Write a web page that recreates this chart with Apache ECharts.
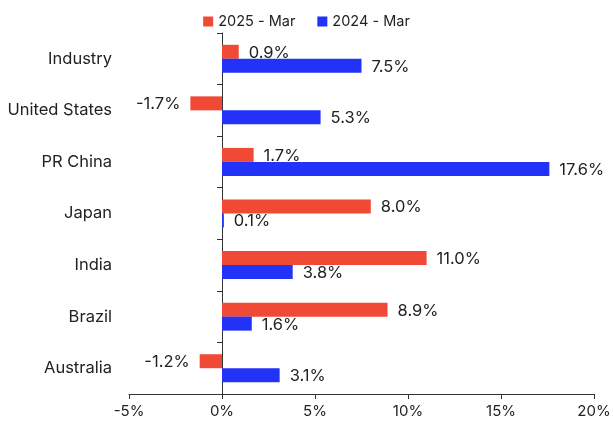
<!DOCTYPE html>
<html>
<head>
<meta charset="utf-8">
<script src="https://cdn.jsdelivr.net/npm/echarts@6/dist/echarts.min.js"></script>
<style>
  html, body { margin: 0; padding: 0; background: #fff; }
  #main { width: 613px; height: 425px; }
</style>
</head>
<body>
<div id="main"></div>
<script>
// categories top to bottom
const categories = ['Industry', 'United States', 'PR China', 'Japan', 'India', 'Brazil', 'Australia']
const mar2025 = [0.9, -1.7, 1.7, 8.0, 11.0, 8.9, -1.2]
const mar2024 = [7.5, 5.3, 17.6, 0.1, 3.8, 1.6, 3.1]
const xTicks = [-5, 0, 5, 10, 15, 20]

const RED = '#f04a36'
const BLUE = '#2232f7'
const TEXT = '#222'
const FONT = 'Inter'

// negative bars get their label on the left side
function withLabels(values) {
    return values.map(v => ({
        value: v,
        label: { position: v < 0 ? 'left' : 'right' }
    }))
}

const chart = echarts.init(document.getElementById('main'))

chart.setOption({
    animation: false,
    textStyle: { fontFamily: FONT },
    legend: {
        top: 9,
        left: 'center',
        itemWidth: 10,
        itemHeight: 10,
        itemGap: 22,
        icon: 'rect',
        textStyle: { fontSize: 14.5, color: TEXT, fontFamily: FONT },
        data: ['2025 - Mar', '2024 - Mar']
    },
    grid: { left: 129, right: 19, top: 33, bottom: 31, outerBoundsMode: 'none', containLabel: false },
    xAxis: {
        type: 'value',
        min: xTicks[0],
        max: xTicks[xTicks.length - 1],
        interval: 5,
        splitLine: { show: false },
        axisLine: { show: true, lineStyle: { color: '#333' } },
        axisTick: { show: true, length: 5, lineStyle: { color: '#333' } },
        axisLabel: { color: TEXT, fontSize: 15, margin: 10, formatter: v => v + '%' }
    },
    yAxis: {
        type: 'category',
        inverse: true,
        data: categories,
        axisLine: { show: true, onZero: true, lineStyle: { color: '#333' } },
        axisTick: { show: true, length: 5, lineStyle: { color: '#333' } },
        // labels sit off the grid edge, not off the zero line
        axisLabel: { color: TEXT, fontSize: 16.5, margin: 17 }
    },
    series: [
        {
            name: '2025 - Mar',
            type: 'bar',
            barWidth: 14,
            barGap: '0%',
            itemStyle: { color: RED },
            label: {
                show: true, distance: 10, color: TEXT, fontSize: 16.5, offset: [0, 1],
                formatter: p => p.value.toFixed(1) + '%'
            },
            data: withLabels(mar2025)
        },
        {
            name: '2024 - Mar',
            type: 'bar',
            barWidth: 14,
            barGap: '0%',
            itemStyle: { color: BLUE },
            label: {
                show: true, distance: 10, color: TEXT, fontSize: 16.5, offset: [0, 1],
                formatter: p => p.value.toFixed(1) + '%'
            },
            data: withLabels(mar2024)
        }
    ]
})
</script>
</body>
</html>
